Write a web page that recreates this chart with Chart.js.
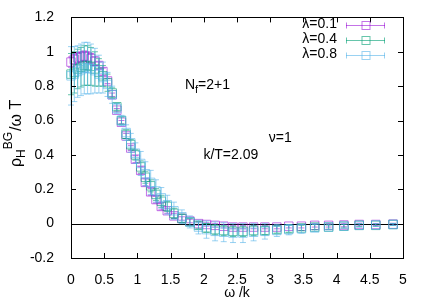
<!DOCTYPE html>
<html>
<head>
<meta charset="utf-8">
<script src="https://cdn.jsdelivr.net/npm/chart.js@4"></script>
<style>
    body { margin: 0; background: #fff; }
    canvas { display: block; }
</style>
</head>
<body>
<canvas id="chart" width="436" height="305"></canvas>
<script>
// omega / k grid
const omega = [0.00, 0.05, 0.10, 0.15, 0.20, 0.25, 0.30, 0.36, 0.42, 0.48, 0.55, 0.62, 0.69, 0.76,
    0.83, 0.90, 0.97, 1.05, 1.12, 1.20, 1.28, 1.36, 1.45, 1.55, 1.67, 1.79, 1.92, 2.04, 2.17,
    2.30, 2.44, 2.59, 2.75, 2.92, 3.10, 3.28, 3.47, 3.67, 3.88, 4.11, 4.34, 4.59, 4.85];

// lambda = 0.1
const rho01 = [0.94, 0.955, 0.965, 0.97, 0.975, 0.97, 0.96, 0.945, 0.92, 0.885, 0.83, 0.75, 0.66, 0.59,
    0.51, 0.44, 0.375, 0.31, 0.24, 0.185, 0.14, 0.10, 0.075, 0.045, 0.03, 0.015, 0.0, -0.005, -0.01,
    -0.015, -0.02, -0.02, -0.02, -0.02, -0.02, -0.015, -0.015, -0.01, -0.01, -0.008, -0.005, -0.005, -0.003];
const err01 = [0.03, 0.03, 0.03, 0.03, 0.03, 0.03, 0.03, 0.025, 0.02, 0.02, 0.015, 0.01, 0.01, 0.01,
    0.015, 0.015, 0.02, 0.02, 0.02, 0.02, 0.02, 0.02, 0.015, 0.015, 0.01, 0.01, 0.01, 0.01, 0.01,
    0.01, 0.01, 0.01, 0.01, 0.01, 0.01, 0.01, 0.01, 0.01, 0.01, 0.01, 0.008, 0.006, 0.005];

// lambda = 0.4
const rho04 = [0.87, 0.88, 0.90, 0.91, 0.92, 0.92, 0.915, 0.90, 0.88, 0.86, 0.82, 0.76, 0.68, 0.60,
    0.52, 0.46, 0.40, 0.33, 0.27, 0.22, 0.17, 0.13, 0.10, 0.06, 0.03, 0.01, -0.01, -0.025, -0.035,
    -0.04, -0.045, -0.045, -0.04, -0.04, -0.035, -0.03, -0.025, -0.02, -0.02, -0.015, -0.01, -0.01, -0.005];
const err04 = [0.12, 0.12, 0.115, 0.115, 0.115, 0.115, 0.11, 0.10, 0.08, 0.06, 0.05, 0.03, 0.02, 0.02,
    0.025, 0.03, 0.03, 0.035, 0.035, 0.035, 0.035, 0.035, 0.03, 0.03, 0.025, 0.02, 0.02, 0.025, 0.03,
    0.03, 0.03, 0.03, 0.03, 0.025, 0.02, 0.02, 0.015, 0.015, 0.012, 0.01, 0.008, 0.006, 0.005];

// lambda = 0.8
const rho08 = [0.86, 0.87, 0.885, 0.895, 0.905, 0.905, 0.90, 0.89, 0.87, 0.85, 0.81, 0.75, 0.67, 0.60,
    0.53, 0.47, 0.41, 0.35, 0.29, 0.24, 0.19, 0.15, 0.11, 0.075, 0.04, 0.01, -0.02, -0.035, -0.045,
    -0.05, -0.055, -0.055, -0.05, -0.045, -0.04, -0.035, -0.03, -0.025, -0.02, -0.015, -0.01, -0.008, -0.005];
const err08 = [0.17, 0.16, 0.15, 0.15, 0.15, 0.15, 0.145, 0.13, 0.11, 0.09, 0.07, 0.05, 0.03, 0.03,
    0.045, 0.055, 0.06, 0.07, 0.07, 0.07, 0.065, 0.06, 0.055, 0.05, 0.04, 0.035, 0.04, 0.05, 0.055,
    0.055, 0.055, 0.055, 0.05, 0.045, 0.035, 0.03, 0.025, 0.02, 0.015, 0.012, 0.01, 0.008, 0.006];

const seriesLabels = ['λ=0.1', 'λ=0.4', 'λ=0.8'];
const xTicks = [0, 0.5, 1, 1.5, 2, 2.5, 3, 3.5, 4, 4.5, 5];
const yTicks = [-0.2, 0, 0.2, 0.4, 0.6, 0.8, 1, 1.2];

const FONT = '"Liberation Sans", Arial, sans-serif';
const colors = ['rgba(148,0,211,0.55)', 'rgba(0,158,115,0.6)', 'rgba(86,180,233,0.6)'];

function makeSet(i, values, errors, order) {
    return {
        label: seriesLabels[i],
        data: omega.map((x, k) => ({ x: x, y: values[k] })),
        errors: errors,
        borderColor: colors[i],
        backgroundColor: 'rgba(0,0,0,0)',
        pointStyle: 'rect',
        pointRadius: 6,
        pointHoverRadius: 6,
        pointBorderWidth: 1,
        showLine: false,
        clip: false,
        order: order
    };
}

// vertical error bars with small caps
const errorBars = {
    id: 'errorBars',
    afterDatasetDraw(chart, args) {
        const ds = chart.data.datasets[args.index];
        const xs = chart.scales.x, ys = chart.scales.y;
        const ctx = chart.ctx;
        ctx.save();
        ctx.strokeStyle = ds.borderColor;
        ctx.lineWidth = 1;
        ds.data.forEach((p, k) => {
            const e = ds.errors[k];
            const px = xs.getPixelForValue(p.x);
            const top = ys.getPixelForValue(p.y + e);
            const bot = ys.getPixelForValue(p.y - e);
            ctx.beginPath();
            ctx.moveTo(px, top); ctx.lineTo(px, bot);
            ctx.moveTo(px - 3, top); ctx.lineTo(px + 3, top);
            ctx.moveTo(px - 3, bot); ctx.lineTo(px + 3, bot);
            ctx.stroke();
        });
        ctx.restore();
    }
};

// zero line, border box, inward mirrored ticks
const frame = {
    id: 'frame',
    beforeDatasetsDraw(chart) {
        const { ctx, chartArea: a } = chart;
        const y0 = chart.scales.y.getPixelForValue(0);
        ctx.save();
        ctx.strokeStyle = '#000';
        ctx.lineWidth = 1;
        ctx.beginPath();
        ctx.moveTo(a.left, Math.round(y0) + 0.5);
        ctx.lineTo(a.right, Math.round(y0) + 0.5);
        ctx.stroke();
        ctx.restore();
    },
    afterDraw(chart) {
        const { ctx, chartArea: a } = chart;
        const xs = chart.scales.x, ys = chart.scales.y;
        ctx.save();
        ctx.strokeStyle = '#000';
        ctx.lineWidth = 1;
        ctx.strokeRect(Math.round(a.left) + 0.5, Math.round(a.top) + 0.5,
            Math.round(a.right - a.left), Math.round(a.bottom - a.top));
        ctx.beginPath();
        xTicks.forEach(v => {
            const px = Math.round(xs.getPixelForValue(v)) + 0.5;
            ctx.moveTo(px, a.bottom); ctx.lineTo(px, a.bottom - 5);
            ctx.moveTo(px, a.top); ctx.lineTo(px, a.top + 5);
        });
        yTicks.forEach(v => {
            const py = Math.round(ys.getPixelForValue(v)) + 0.5;
            ctx.moveTo(a.left, py); ctx.lineTo(a.left + 5, py);
            ctx.moveTo(a.right, py); ctx.lineTo(a.right - 5, py);
        });
        ctx.stroke();
        ctx.restore();
    }
};

// labels, axis titles and the legend in gnuplot style
const texts = {
    id: 'texts',
    afterDraw(chart) {
        const { ctx, chartArea: a } = chart;
        const xs = chart.scales.x, ys = chart.scales.y;
        const f = s => s + 'px ' + FONT;
        ctx.save();
        ctx.fillStyle = '#000';
        ctx.textBaseline = 'alphabetic';
        ctx.textAlign = 'left';

        // N_f=2+1
        let x = xs.getPixelForValue(1.715), y = ys.getPixelForValue(0.786);
        ctx.font = f(14);
        ctx.fillText('N', x, y);
        x += ctx.measureText('N').width;
        ctx.font = f(11);
        ctx.fillText('f', x, y + 4);
        x += ctx.measureText('f').width;
        ctx.font = f(14);
        ctx.fillText('=2+1', x, y);

        ctx.fillText('k/T=2.09', xs.getPixelForValue(1.994), ys.getPixelForValue(0.377));
        ctx.fillText('ν=1', xs.getPixelForValue(2.98), ys.getPixelForValue(0.475));

        // x title
        ctx.textAlign = 'center';
        ctx.fillText('ω /k', (a.left + a.right) / 2, 297);

        // y title, rotated: rho, sub H, then sup BG, then /omega T
        ctx.save();
        ctx.translate(21, 167);
        ctx.rotate(-Math.PI / 2);
        ctx.textAlign = 'left';
        let t = 0;
        ctx.font = f(16);
        ctx.fillText('ρ', t, 0);
        t += ctx.measureText('ρ').width;
        ctx.font = f(12);
        ctx.fillText('H', t, 4);
        t += ctx.measureText('H').width;
        ctx.fillText('BG', t, -9);
        t += ctx.measureText('BG').width;
        ctx.font = f(16);
        ctx.fillText('/ω T', t + 1, 0);
        ctx.restore();

        // legend
        const rows = [24.5, 39.5, 54.5];
        chart.data.datasets.forEach((ds, i) => {
            const ry = rows[i];
            ctx.font = f(14);
            ctx.textAlign = 'right';
            ctx.textBaseline = 'middle';
            ctx.fillStyle = '#000';
            ctx.fillText(ds.label, 337, ry);
            ctx.strokeStyle = ds.borderColor;
            ctx.lineWidth = 1;
            const yy = Math.round(ry) + 0.5;
            ctx.beginPath();
            ctx.moveTo(346, yy); ctx.lineTo(385, yy);
            ctx.moveTo(346.5, yy - 3); ctx.lineTo(346.5, yy + 3);
            ctx.moveTo(384.5, yy - 3); ctx.lineTo(384.5, yy + 3);
            ctx.stroke();
            ctx.strokeRect(362, yy - 4, 8, 8);
        });
        ctx.restore();
    }
};

new Chart(document.getElementById('chart'), {
    type: 'scatter',
    data: {
        datasets: [
            makeSet(0, rho01, err01, 2),
            makeSet(1, rho04, err04, 1),
            makeSet(2, rho08, err08, 0)
        ]
    },
    options: {
        responsive: false,
        devicePixelRatio: 1,
        animation: false,
        layout: { padding: { left: 0, right: 33, top: 15, bottom: 0 } },
        plugins: {
            legend: { display: false },
            tooltip: { enabled: false }
        },
        scales: {
            x: {
                type: 'linear',
                min: 0, max: 5,
                afterBuildTicks: s => { s.ticks = xTicks.map(v => ({ value: v })); },
                afterFit: s => { s.height = 47; },
                grid: { display: false },
                border: { display: false },
                ticks: {
                    padding: 6,
                    color: '#000',
                    font: { family: FONT, size: 14 },
                    maxRotation: 0,
                    callback: v => String(v)
                }
            },
            y: {
                type: 'linear',
                min: -0.2, max: 1.2,
                afterBuildTicks: s => { s.ticks = yTicks.map(v => ({ value: v })); },
                afterFit: s => { s.width = 71; },
                grid: { display: false },
                border: { display: false },
                ticks: {
                    padding: 9,
                    color: '#000',
                    font: { family: FONT, size: 14 },
                    callback: v => String(v)
                }
            }
        }
    },
    plugins: [errorBars, frame, texts]
});
</script>
</body>
</html>
